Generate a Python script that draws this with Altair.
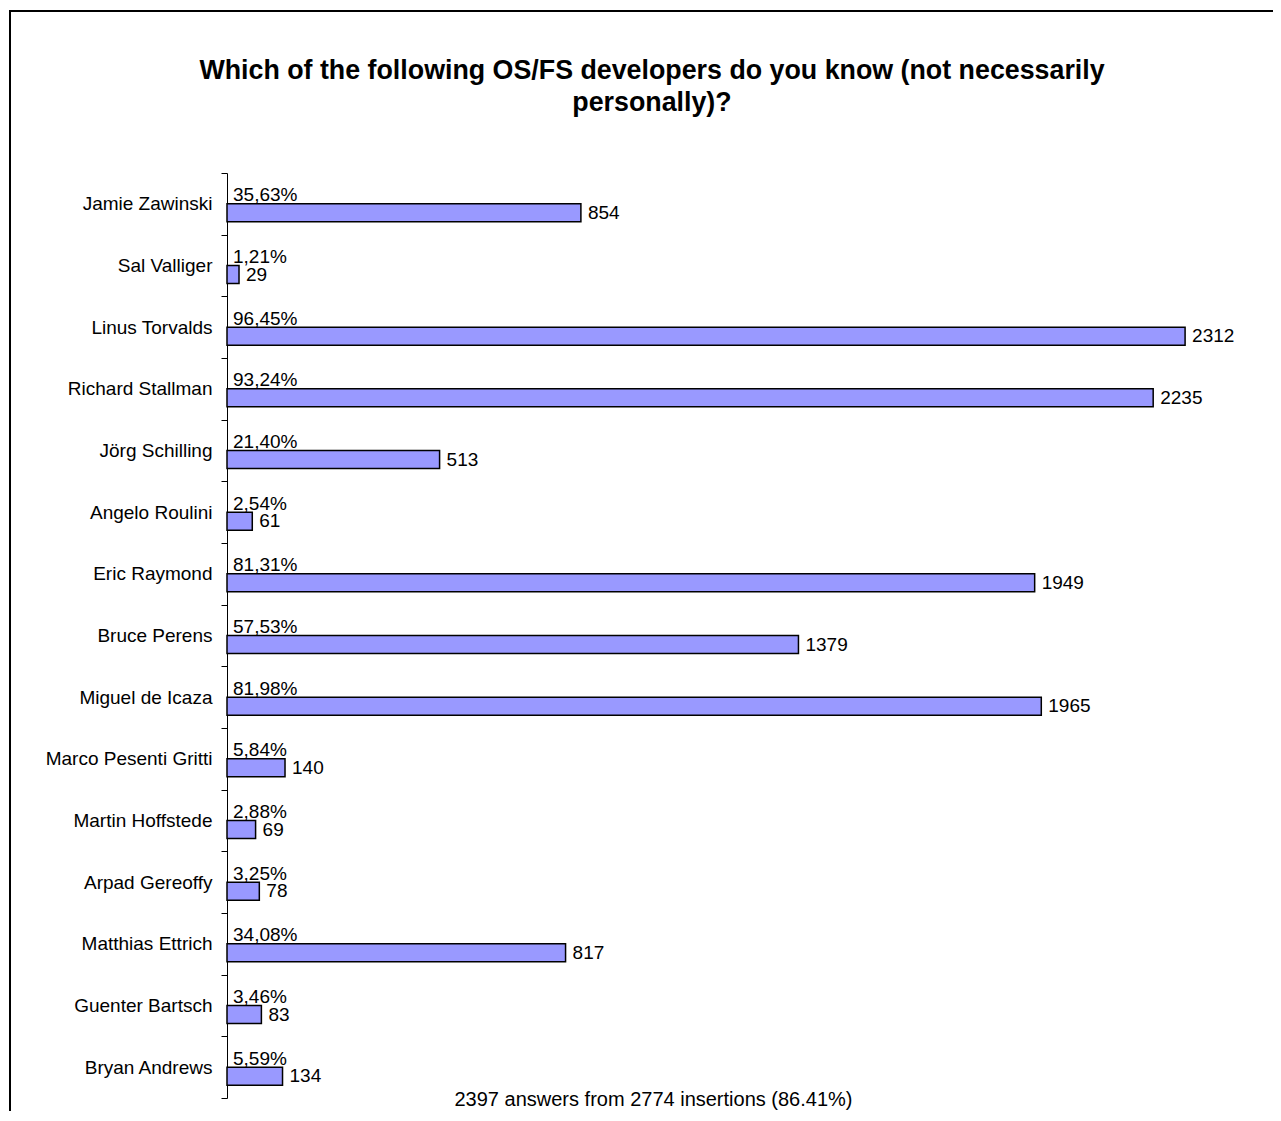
import altair as alt
import pandas as pd

names = ["Jamie Zawinski", "Sal Valliger", "Linus Torvalds", "Richard Stallman",
         "Jörg Schilling", "Angelo Roulini", "Eric Raymond", "Bruce Perens",
         "Miguel de Icaza", "Marco Pesenti Gritti", "Martin Hoffstede",
         "Arpad Gereoffy", "Matthias Ettrich", "Guenter Bartsch", "Bryan Andrews"]
counts = [854, 29, 2312, 2235, 513, 61, 1949, 1379, 1965, 140, 69, 78, 817, 83, 134]
percents = ["35,63%", "1,21%", "96,45%", "93,24%", "21,40%", "2,54%", "81,31%",
            "57,53%", "81,98%", "5,84%", "2,88%", "3,25%", "34,08%", "3,46%", "5,59%"]

title_lines = ["Which of the following OS/FS developers do you know (not necessarily",
               "personally)?"]
footer = "2397 answers from 2774 insertions (86.41%)"

df = pd.DataFrame({"name": names, "count": counts, "pct": percents})

FONT = "Liberation Sans, Arial, Helvetica, sans-serif"

y_enc = alt.Y("name:N", sort=None,
              scale=alt.Scale(paddingInner=0, paddingOuter=0),
              axis=alt.Axis(title=None, tickBand="extent", tickSize=6,
                            labelPadding=9, labelFontSize=19, labelColor="black",
                            labelFont=FONT, domainColor="black", tickColor="black",
                            domainWidth=1, tickWidth=1))
x_enc = alt.X("count:Q", scale=alt.Scale(domain=[0, 2500], nice=False),
              axis=alt.Axis(title=footer, domain=False, ticks=False, labels=False,
                            grid=False, titleX=426, titleY=7,
                            titleBaseline="alphabetic", titleAlign="center",
                            titleAnchor="start",
                            titleFontWeight="normal", titleFontSize=20,
                            titleFont=FONT, titleColor="black"))

base = alt.Chart(df).encode(y=y_enc, x=x_enc)

bars = base.mark_bar(size=18, yOffset=9, color="#9999FF", stroke="black",
                     strokeWidth=1.5)

pct_text = base.mark_text(align="left", baseline="alphabetic", dx=6, dy=-2.5,
                          fontSize=19, font=FONT, color="black").encode(
    x=alt.datum(0), text="pct:N")

count_text = base.mark_text(align="left", baseline="middle", dx=7, dy=9,
                            fontSize=19, font=FONT, color="black").encode(
    text="count:Q")

one = pd.DataFrame({"k": [0]})

frame = alt.Chart(one).mark_rect(
    filled=False, stroke="black", strokeWidth=2).encode(
    x=alt.value(-217), x2=alt.value(1300), y=alt.value(-162), y2=alt.value(1300))

title = alt.Chart(one).mark_text(
    text=title_lines, align="center", baseline="alphabetic", lineHeight=32,
    fontSize=26.8, fontWeight="bold", font=FONT, color="black").encode(
    x=alt.value(425), y=alt.value(-94))

chart = alt.layer(frame, title, bars, pct_text, count_text).properties(
    width=1036, height=925,
    autosize=alt.AutoSizeParams(type="none"),
    padding={"left": 219, "top": 165, "right": 10, "bottom": 13},
).configure(background="white", view=alt.ViewConfig(stroke="transparent"))

chart.save("out.html", embed_options={"renderer": "svg", "actions": False})
